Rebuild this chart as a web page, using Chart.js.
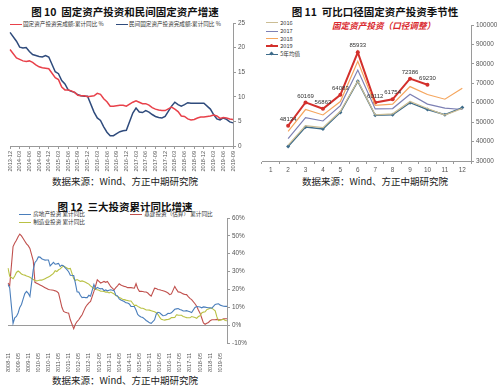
<!DOCTYPE html>
<html>
<head>
<meta charset="utf-8">
<script src="https://cdn.jsdelivr.net/npm/chart.js@4.4.1/dist/chart.umd.min.js"></script>
<style>
  html, body { margin: 0; padding: 0; background: #fff; }
  body { width: 500px; height: 388px; position: relative; overflow: hidden; font-family: "Noto Sans CJK SC", "Noto Sans", sans-serif; }
  canvas { position: absolute; }
  .title { position: absolute; width: 250px; text-align: center; font-weight: bold; font-size: 10.5px; line-height: 1; color: #111; white-space: nowrap; }
  .src { position: absolute; width: 250px; text-align: center; font-size: 9.5px; line-height: 1; color: #222; white-space: nowrap; }
  .lg { position: absolute; font-size: 5.6px; line-height: 1; color: #333; white-space: nowrap; }
  .lg i { display: inline-block; width: 12px; height: 0; border-top: 1.5px solid; vertical-align: middle; margin-right: 1px; position: relative; }
  .lg i b { position: absolute; left: 4px; top: -3px; width: 3px; height: 3px; }
  .sub { position: absolute; font-size: 8.6px; font-weight: bold; font-style: italic; color: #d9262c; line-height: 1; white-space: nowrap; }
</style>
</head>
<body>

<div class="title" style="left:0;top:6.5px">图 10&nbsp;&nbsp;固定资产投资和民间固定资产增速</div>
<div class="title" style="left:250px;top:6.5px">图 11&nbsp;&nbsp;可比口径固定资产投资季节性</div>
<div class="title" style="left:0;top:201.5px">图 12&nbsp;&nbsp;三大投资累计同比增速</div>

<div class="src" style="left:0;top:177px">数据来源：Wind、方正中期研究院</div>
<div class="src" style="left:250px;top:177px">数据来源：Wind、方正中期研究院</div>
<div class="src" style="left:0;top:376px">数据来源：Wind、方正中期研究院</div>

<!-- 图10 图例 -->
<div class="lg" style="left:10px;top:22px"><i style="color:#e8414a"></i>固定资产投资完成额:累计同比 %</div>
<div class="lg" style="left:116px;top:22px"><i style="color:#2f4b7c"></i>民间固定资产投资完成额:累计同比 %</div>

<!-- 图11 图例 -->
<div class="sub" style="left:332px;top:20.5px">固定资产投资（口径调整）</div>
<div class="lg" style="left:266px;top:20.5px"><i style="color:#cbbd94;border-top-width:1px"></i> 2016</div>
<div class="lg" style="left:266px;top:29px"><i style="color:#7d80b4;border-top-width:1px"></i> 2017</div>
<div class="lg" style="left:266px;top:36.5px"><i style="color:#f5a65e;border-top-width:1px"></i> 2018</div>
<div class="lg" style="left:266px;top:44px"><i style="color:#d3302c;border-top-width:2px"><b style="background:#d3302c;border-radius:50%"></b></i> 2019</div>
<div class="lg" style="left:266px;top:52px"><i style="color:#3d6b8a;border-top-width:1.2px"><b style="background:#3d6b8a;transform:rotate(45deg)"></b></i> 5年均值</div>

<!-- 图12 图例 -->
<div class="lg" style="left:19px;top:212px"><i style="color:#4a7ebb;border-top-width:1px"></i> 房地产投资 累计同比</div>
<div class="lg" style="left:19px;top:220px"><i style="color:#b9c144;border-top-width:1px"></i> 制造业投资 累计同比</div>
<div class="lg" style="left:130px;top:212px"><i style="color:#c0504d;border-top-width:1px"></i> 基建投资（估算） 累计同比</div>

<canvas id="c10" width="250" height="180" style="left:0;top:0"></canvas>
<canvas id="c11" width="250" height="180" style="left:250px;top:0"></canvas>
<canvas id="c12" width="250" height="185" style="left:0;top:195px"></canvas>

<script>
// 月份标签
function monthRange(y0, m0, y1, m1) {
  const out = [];
  for (let y = y0, m = m0; y < y1 || (y === y1 && m <= m1); m++) {
    if (m > 12) { m = 1; y++; if (y > y1 || (y === y1 && m > m1)) break; }
    out.push(y + "-" + String(m).padStart(2, "0"));
  }
  return out;
}

// ================= 图10 数据 =================
const months10 = monthRange(2013, 12, 2019, 9);
const faiYoy = [19.6].concat(
  [null, 17.9, 17.6, 17.3, 17.2, 17.3, 17.0, 16.5, 16.1, 15.9, 15.8, 15.7],
  [null, 13.9, 13.5, 12.0, 11.4, 11.4, 11.2, 10.9, 10.3, 10.2, 10.2, 10.0],
  [null, 10.2, 10.7, 10.5, 9.6, 9.0, 8.1, 8.1, 8.2, 8.3, 8.3, 8.1],
  [null, 8.9, 9.2, 8.9, 8.6, 8.6, 8.3, 7.8, 7.5, 7.3, 7.2, 7.2],
  [null, 7.9, 7.5, 7.0, 6.1, 6.0, 5.5, 5.3, 5.4, 5.7, 5.9, 5.9],
  [null, 6.1, 6.3, 6.1, 5.6, 5.8, 5.7, 5.5, 5.4]
);
const privateYoy = [23.1].concat(
  [null, 21.3, 20.1, 19.9, 20.0, 19.2, 18.6, 18.4, 18.2, 18.1, 18.4, 18.1],
  [null, 15.1, 14.7, 13.3, 12.6, 11.4, 11.1, 10.9, 10.4, 10.2, 10.1, 10.1],
  [null, 6.9, 5.7, 5.2, 3.9, 2.8, 2.1, 2.1, 2.5, 2.9, 3.1, 3.2],
  [null, 6.7, 7.7, 6.9, 6.8, 7.2, 6.9, 6.4, 6.0, 5.8, 5.7, 6.0],
  [null, 8.1, 8.9, 8.4, 8.1, 8.4, 8.8, 8.7, 8.7, 8.7, 8.7, 8.7],
  [null, 7.5, 6.4, 5.5, 5.3, 5.7, 5.4, 4.9, 4.7]
);
const ticks10 = [0, 5, 10, 15, 20, 25];

// ================= 图11 数据 =================
const monthNo = ["1", "2", "3", "4", "5", "6", "7", "8", "9", "10", "11", "12"];
const fai2016 = [null, 38200, 48200, 47200, 55600, 71200, 53700, 54300, 60600, 57000, 53600, 57000];
const fai2017 = [null, 41500, 52300, 50600, 58500, 76800, 56800, 57000, 64400, 59300, 57200, 56500];
const fai2018 = [null, 45300, 56500, 53700, 60600, 81300, 58600, 59300, 68300, 64200, 61800, 67500];
const fai2019 = [null, 48134, 60169, 56863, 64083, 85933, 60112, 61754, 72386, 69230, null, null];
const fai5yAvg = [null, 37500, 47500, 46500, 55000, 71000, 53500, 53800, 60000, 56500, 53800, 57500];

// ================= 图12 数据 =================
const months12 = monthRange(2008, 11, 2019, 9);
const realEstateYoy = [22.7, 20.9].concat(
  [null, 1.0, 4.1, 4.9, 6.8, 9.9, 11.6, 14.7, 17.7, 18.9, 17.8, 16.1],
  [null, 31.1, 35.1, 36.2, 38.2, 38.1, 37.2, 36.7, 36.4, 36.5, 36.5, 33.2],
  [null, 35.2, 34.1, 34.3, 34.6, 32.9, 33.6, 33.2, 32.0, 31.1, 29.9, 27.9],
  [null, 27.8, 23.5, 18.7, 18.5, 16.6, 15.4, 15.6, 15.4, 15.4, 16.7, 16.2],
  [null, 22.8, 20.2, 21.1, 20.6, 20.3, 20.5, 19.3, 19.7, 19.2, 19.5, 19.8],
  [null, 19.3, 16.8, 16.4, 14.7, 14.1, 13.7, 13.2, 12.5, 12.4, 11.9, 10.5],
  [null, 10.4, 8.5, 6.0, 5.1, 4.6, 4.3, 3.5, 2.6, 2.0, 1.3, 1.0],
  [null, 3.0, 6.2, 7.2, 7.0, 6.1, 5.3, 5.4, 5.8, 6.6, 6.5, 6.9],
  [null, 8.9, 9.1, 9.3, 8.8, 8.5, 7.9, 7.9, 8.1, 7.8, 7.5, 7.0],
  [null, 9.9, 10.4, 10.3, 10.2, 9.7, 10.2, 10.1, 9.9, 9.7, 9.7, 9.5],
  [null, 11.6, 11.8, 11.9, 11.2, 10.9, 10.6, 10.5, 10.5]
);
const manufacturingYoy = [32.0, 27.4].concat(
  [null, 26.0, 27.5, 29.5, 30.3, 29.6, 28.6, 28.2, 28.0, 27.5, 27.2, 26.8],
  [null, 25.5, 25.0, 24.8, 25.0, 25.3, 25.2, 25.5, 26.0, 26.5, 27.0, 27.5],
  [null, 29.0, 30.5, 30.0, 31.0, 31.5, 32.5, 33.0, 32.5, 32.0, 31.5, 31.8],
  [null, 26.0, 25.0, 25.5, 25.0, 24.5, 24.8, 24.5, 24.0, 23.5, 23.0, 22.0],
  [null, 20.5, 20.0, 19.8, 19.5, 19.0, 19.0, 18.8, 18.5, 18.5, 18.0, 18.5],
  [null, 17.5, 16.5, 16.0, 15.5, 15.0, 14.5, 14.3, 14.0, 13.8, 13.5, 13.5],
  [null, 11.0, 11.2, 10.5, 10.0, 9.5, 9.5, 9.0, 8.5, 8.5, 8.4, 8.1],
  [null, 7.5, 7.0, 6.0, 4.5, 3.3, 3.0, 2.8, 3.1, 3.2, 3.5, 4.2],
  [null, 4.3, 5.8, 5.6, 5.5, 5.5, 4.9, 4.5, 4.2, 4.1, 4.1, 4.8],
  [null, 4.3, 3.8, 4.8, 5.2, 6.8, 7.3, 7.5, 8.7, 9.1, 9.5, 9.5],
  [null, 8.0, 4.6, 2.5, 2.7, 3.0, 3.3, 2.6, 2.5]
);
const infraYoy = [23.6, 22.0].concat(
  [null, 44.0, 46.0, 47.5, 49.5, 51.0, 50.0, 48.5, 47.0, 45.5, 44.5, 43.0],
  [null, 36.0, 24.0, 23.5, 23.0, 22.5, 22.0, 21.5, 21.0, 20.5, 20.0, 19.8],
  [null, 19.5, 19.2, 18.8, 18.0, 14.0, 10.0, 7.7, 7.2, 6.9, 6.7, 3.0],
  [null, -2.0, 0.5, 2.0, 3.0, 4.5, 5.8, 8.0, 10.0, 11.4, 12.5, 13.3],
  [null, 18.9, 22.0, 25.4, 24.5, 23.6, 24.0, 24.5, 24.0, 24.5, 23.0, 21.5],
  [null, 19.8, 21.0, 22.0, 23.2, 22.5, 22.0, 21.7, 21.5, 21.0, 21.0, 21.0],
  [null, 20.7, 23.2, 20.5, 18.9, 19.0, 18.8, 18.6, 18.6, 18.0, 17.0, 16.2],
  [null, 20.7, 20.5, 20.0, 19.8, 19.5, 19.3, 19.0, 18.5, 18.0, 17.1, 17.5],
  [null, 21.7, 20.0, 18.6, 18.5, 18.0, 17.5, 17.2, 17.1, 16.0, 15.0, 14.3],
  [null, 12.0, 10.6, 8.5, 6.7, 4.0, 1.2, 0.5, 1.0, 1.5, 2.5, 3.0],
  [null, 3.0, 3.2, 3.0, 3.0, 3.2, 3.5, 3.6, 3.6]
);

const axisColor = "#9a9a9a";
const tickColor = "#555";
const tinyFont = { family: "Liberation Sans", size: 5.6 };
const smallFont = { family: "Liberation Sans", size: 6.4 };

function line(data, color, width, extra) {
  return Object.assign({
    data, borderColor: color, backgroundColor: color, borderWidth: width,
    pointRadius: 0, tension: 0, spanGaps: true
  }, extra || {});
}

// 竖排日期轴
function dateAxis(labels, every, height) {
  return {
    type: "category",
    offset: false,
    afterFit: s => { s.height = height; },
    border: { display: true, color: axisColor },
    grid: {
      drawOnChartArea: false, tickLength: 3,
      color: c => (c.index % every === 0 ? axisColor : "rgba(0,0,0,0)")
    },
    ticks: {
      autoSkip: false, minRotation: 90, maxRotation: 90, padding: 2,
      color: tickColor, font: tinyFont,
      callback: (v, i) => (i % every === 0 ? labels[i] : "")
    }
  };
}

Chart.defaults.animation = false;
Chart.defaults.plugins.legend.display = false;
Chart.defaults.plugins.tooltip.enabled = false;

// ================= 图10 =================
new Chart(document.getElementById("c10"), {
  type: "line",
  data: {
    labels: months10,
    datasets: [
      line(faiYoy, "#e8414a", 1.5),
      line(privateYoy, "#2f4b7c", 1.5)
    ]
  },
  options: {
    responsive: false,
    layout: { padding: { left: 10, top: 23, right: 0, bottom: 6 } },
    scales: {
      x: dateAxis(months10, 3, 28),
      y: {
        position: "right",
        min: 0, max: 25,
        afterFit: s => { s.width = 17; },
        afterBuildTicks: s => { s.ticks = ticks10.map(v => ({ value: v })); },
        border: { display: true, color: axisColor },
        grid: { drawOnChartArea: false, tickLength: 3, color: axisColor },
        ticks: { color: tickColor, font: smallFont, padding: 2 }
      }
    }
  }
});

// ================= 图11 =================
const pointLabels = {
  id: "pointLabels",
  afterDatasetsDraw(chart) {
    const idx = 3;
    const meta = chart.getDatasetMeta(idx);
    const vals = chart.data.datasets[idx].data;
    const ctx = chart.ctx;
    ctx.save();
    ctx.font = '6px "Liberation Sans"';
    ctx.fillStyle = "#333";
    ctx.textAlign = "center";
    ctx.textBaseline = "bottom";
    meta.data.forEach((pt, i) => {
      if (vals[i] == null) return;
      ctx.fillText(String(vals[i]), pt.x, pt.y - 3.5);
    });
    ctx.restore();
  }
};

new Chart(document.getElementById("c11"), {
  type: "line",
  data: {
    labels: monthNo,
    datasets: [
      line(fai2016, "#cbbd94", 1.2),
      line(fai2017, "#7d80b4", 1.2),
      line(fai2018, "#f5a65e", 1.2),
      line(fai2019, "#d3302c", 2, { pointRadius: 2, pointBorderWidth: 0 }),
      line(fai5yAvg, "#3d6b8a", 1.4, { pointRadius: 2, pointStyle: "rectRot", pointBorderWidth: 0 })
    ]
  },
  options: {
    responsive: false,
    layout: { padding: { left: 12, top: 25, right: 2, bottom: 7 } },
    scales: {
      x: {
        offset: true,
        afterFit: s => { s.height = 12; },
        border: { display: true, color: axisColor },
        grid: { offset: true, drawOnChartArea: false, tickLength: 3, color: axisColor },
        ticks: { color: tickColor, font: smallFont, padding: 2, maxRotation: 0 }
      },
      y: {
        position: "right",
        min: 30000, max: 100000,
        afterFit: s => { s.width = 27; },
        border: { display: true, color: axisColor },
        grid: { drawOnChartArea: false, tickLength: 3, color: axisColor },
        ticks: { stepSize: 10000, color: tickColor, font: smallFont, padding: 2, callback: v => String(v) }
      }
    }
  },
  plugins: [pointLabels]
});

// ================= 图12 =================
new Chart(document.getElementById("c12"), {
  type: "line",
  data: {
    labels: months12,
    datasets: [
      line(realEstateYoy, "#4a7ebb", 1.1),
      line(manufacturingYoy, "#b9c144", 1.1),
      line(infraYoy, "#c0504d", 1.1)
    ]
  },
  options: {
    responsive: false,
    layout: { padding: { left: 8, top: 23, right: 2, bottom: 8 } },
    scales: {
      x: Object.assign(dateAxis(months12, 6, 29), {
        border: { display: false },
        grid: { display: false }
      }),
      y: {
        position: "right",
        min: -10, max: 60,
        afterFit: s => { s.width = 21; },
        border: { display: true, color: axisColor },
        grid: {
          drawOnChartArea: true, tickLength: 3, tickColor: axisColor,
          color: c => (c.tick && c.tick.value === 0 ? axisColor : "rgba(0,0,0,0)")
        },
        ticks: {
          stepSize: 10, color: tickColor, font: smallFont, padding: 2,
          callback: v => v + "%"
        }
      }
    }
  }
});
</script>
</body>
</html>
